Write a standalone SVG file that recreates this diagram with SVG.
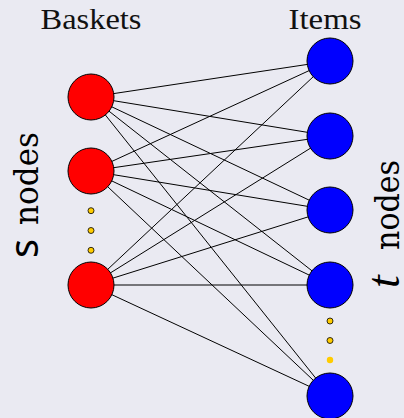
<svg xmlns="http://www.w3.org/2000/svg" width="404" height="418" viewBox="0 0 404 418">
  <style>
    .edge { stroke: #000; stroke-width: 1; fill: none; }
    .basket { fill: #ff0000; stroke: #000; stroke-width: 1; }
    .item { fill: #0000ff; stroke: #000; stroke-width: 1; }
    .dot { fill: #ffcc00; stroke: #000; stroke-width: 0.8; }
    .dot-plain { fill: #ffcc00; }
    .head { font-family: "Liberation Serif", "DejaVu Serif", serif; font-size: 29px; fill: #111; }
    .side { font-family: "DejaVu Serif", "Liberation Serif", serif; font-size: 33px; fill: #000; }
    .var-s { font-family: "Noto Sans", "DejaVu Sans", sans-serif; font-size: 40px; fill: #000; }
    .var-t { font-family: "Liberation Serif", "DejaVu Serif", serif; font-style: italic; font-size: 46px; fill: #000; }
  </style>
  <rect width="404" height="418" fill="#eaeaf2"/>

  <!-- column headings -->
  <text class="head" x="91" y="28.5" text-anchor="middle" textLength="101" lengthAdjust="spacingAndGlyphs">Baskets</text>
  <text class="head" x="325" y="28.5" text-anchor="middle" textLength="73" lengthAdjust="spacingAndGlyphs">Items</text>

  <!-- side labels, read bottom to top -->
  <g id="label-s" transform="translate(38,0) rotate(-90)">
    <text class="var-s" x="-258" y="0">s</text>
    <text class="side" x="-225" y="0" textLength="93" lengthAdjust="spacingAndGlyphs">nodes</text>
  </g>
  <g id="label-t" transform="translate(399,0) rotate(-90)">
    <text class="var-t" x="-288" y="0">t</text>
    <text class="side" x="-250" y="0" textLength="90" lengthAdjust="spacingAndGlyphs">nodes</text>
  </g>

  <!-- complete bipartite connections: every basket to every item -->
  <g id="connectors">
    <line class="edge" x1="91" y1="97" x2="330" y2="61"/>
    <line class="edge" x1="91" y1="97" x2="330" y2="136"/>
    <line class="edge" x1="91" y1="97" x2="330" y2="210"/>
    <line class="edge" x1="91" y1="97" x2="330" y2="285"/>
    <line class="edge" x1="91" y1="97" x2="330" y2="396"/>
    <line class="edge" x1="91" y1="171" x2="330" y2="61"/>
    <line class="edge" x1="91" y1="171" x2="330" y2="136"/>
    <line class="edge" x1="91" y1="171" x2="330" y2="210"/>
    <line class="edge" x1="91" y1="171" x2="330" y2="285"/>
    <line class="edge" x1="91" y1="171" x2="330" y2="396"/>
    <line class="edge" x1="91" y1="285" x2="330" y2="61"/>
    <line class="edge" x1="91" y1="285" x2="330" y2="136"/>
    <line class="edge" x1="91" y1="285" x2="330" y2="210"/>
    <line class="edge" x1="91" y1="285" x2="330" y2="285"/>
    <line class="edge" x1="91" y1="285" x2="330" y2="396"/>
  </g>

  <!-- basket nodes -->
  <g id="basket-1"><circle class="basket" cx="91" cy="97" r="23"/></g>
  <g id="basket-2"><circle class="basket" cx="91" cy="171" r="23"/></g>
  <g id="basket-n"><circle class="basket" cx="91" cy="285" r="23"/></g>
  <g id="basket-ellipsis">
    <circle class="dot" cx="91" cy="210.7" r="3"/>
    <circle class="dot" cx="91" cy="230.5" r="3"/>
    <circle class="dot" cx="91" cy="250.3" r="3"/>
  </g>

  <!-- item nodes -->
  <g id="item-1"><circle class="item" cx="330" cy="61" r="23"/></g>
  <g id="item-2"><circle class="item" cx="330" cy="136" r="23"/></g>
  <g id="item-3"><circle class="item" cx="330" cy="210" r="23"/></g>
  <g id="item-4"><circle class="item" cx="330" cy="285" r="23"/></g>
  <g id="item-n"><circle class="item" cx="330" cy="396" r="23"/></g>
  <g id="item-ellipsis">
    <circle class="dot" cx="330" cy="321" r="3"/>
    <circle class="dot" cx="330" cy="340.5" r="3"/>
    <circle class="dot-plain" cx="330" cy="360" r="3.2"/>
  </g>
</svg>
